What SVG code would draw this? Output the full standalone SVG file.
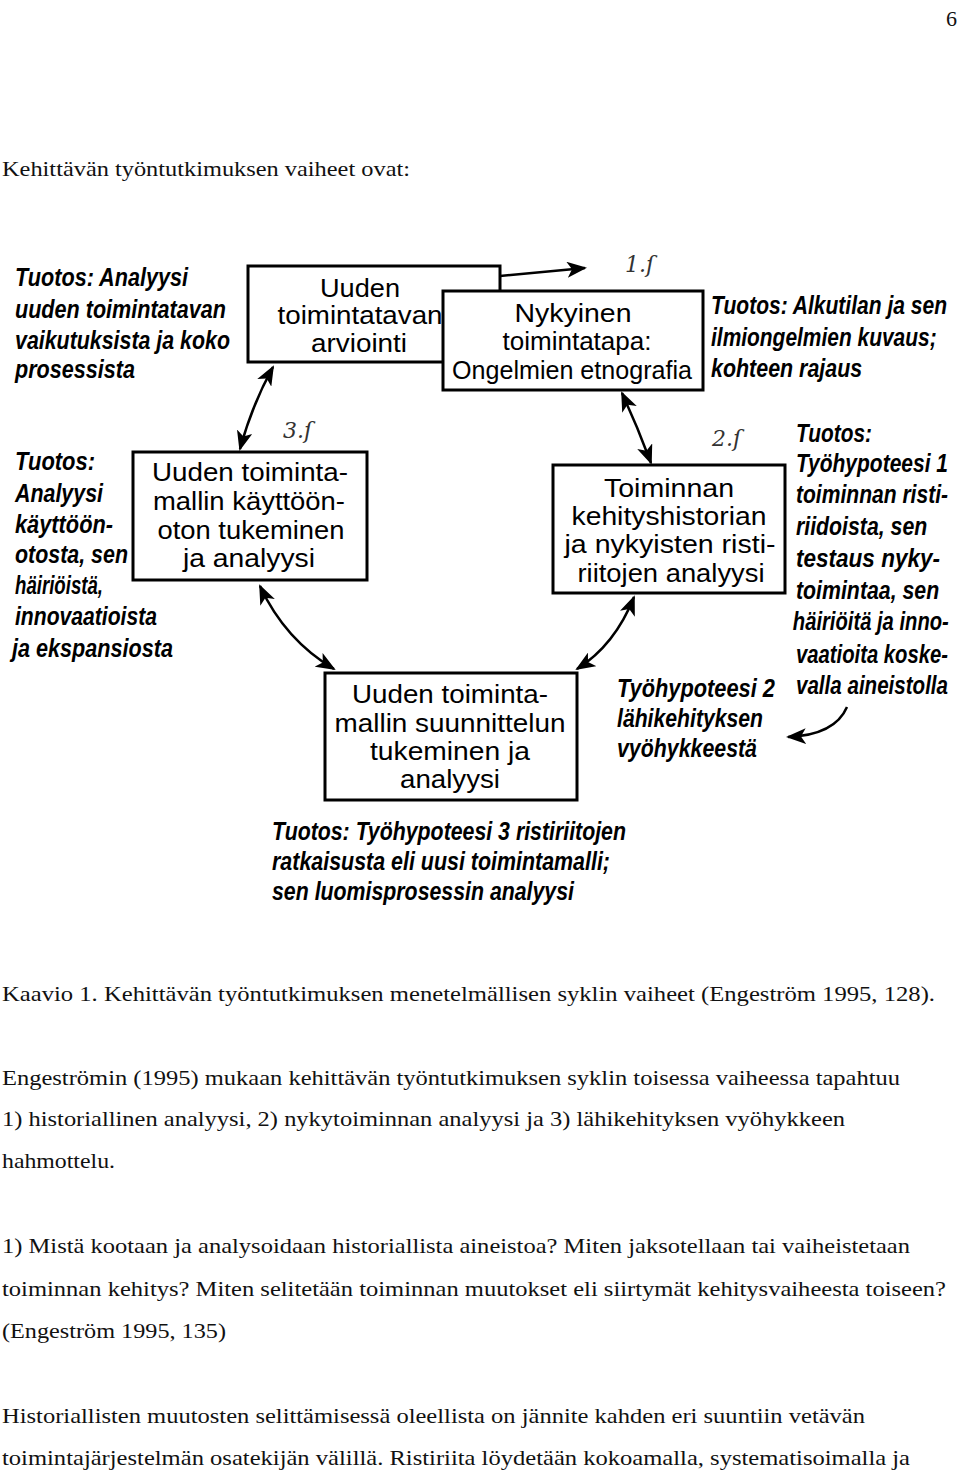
<svg xmlns="http://www.w3.org/2000/svg" width="960" height="1475" viewBox="0 0 960 1475">
<style>
.pg{font-family:"Liberation Serif","Times New Roman",serif;font-size:22px;fill:#111}
.bx{fill:#fff;stroke:#000;stroke-width:3}
.bt{font-family:"Liberation Sans",Arial,sans-serif;font-size:25px;fill:#000;text-anchor:middle}
.it{font-family:"Liberation Sans Narrow","Liberation Sans",Arial,sans-serif;font-size:25px;font-style:italic;font-weight:bold;fill:#000}
.hw{font-family:"DejaVu Serif",serif;font-style:italic;font-size:22px;fill:#333}
.ln{fill:none;stroke:#000;stroke-width:2.5}
</style>
<defs>
<marker id="ah" viewBox="0 0 20 16" refX="18" refY="8" markerWidth="20" markerHeight="16" markerUnits="userSpaceOnUse" orient="auto-start-reverse">
<path d="M0,0 L20,8 L0,16 L5,8 z" fill="#000"/>
</marker>
</defs>
<rect width="960" height="1475" fill="#fff"/>

<text class="pg" x="946" y="26">6</text>
<text class="pg" x="2" y="176" textLength="408" lengthAdjust="spacingAndGlyphs">Kehittävän työntutkimuksen vaiheet ovat:</text>

<g id="out-top-left">
<text class="it" x="15" y="286" textLength="173" lengthAdjust="spacingAndGlyphs">Tuotos: Analyysi</text>
<text class="it" x="15" y="318" textLength="211" lengthAdjust="spacingAndGlyphs">uuden toimintatavan</text>
<text class="it" x="15" y="349" textLength="215" lengthAdjust="spacingAndGlyphs">vaikutuksista ja koko</text>
<text class="it" x="15" y="378" textLength="120" lengthAdjust="spacingAndGlyphs">prosessista</text>
</g>

<g id="node-A">
<rect class="bx" x="248" y="266" width="252" height="96"/>
<text class="bt" x="360" y="297" textLength="80" lengthAdjust="spacingAndGlyphs">Uuden</text>
<text class="bt" x="360" y="324" textLength="165" lengthAdjust="spacingAndGlyphs">toimintatavan</text>
<text class="bt" x="359" y="352" textLength="96" lengthAdjust="spacingAndGlyphs">arviointi</text>
</g>

<g id="node-B">
<rect class="bx" x="443" y="291" width="260" height="99"/>
<text class="bt" x="573" y="322" textLength="117" lengthAdjust="spacingAndGlyphs">Nykyinen</text>
<text class="bt" x="577" y="350" textLength="149" lengthAdjust="spacingAndGlyphs">toimintatapa:</text>
<text class="bt" x="572" y="379" textLength="240" lengthAdjust="spacingAndGlyphs">Ongelmien etnografia</text>
</g>

<g id="out-top-right" transform="translate(711,0) scale(0.8,1)">
<text class="it" x="0" y="314" textLength="295" lengthAdjust="spacingAndGlyphs">Tuotos: Alkutilan ja sen</text>
<text class="it" x="0" y="346" textLength="282" lengthAdjust="spacingAndGlyphs">ilmiongelmien kuvaus;</text>
<text class="it" x="0" y="377" textLength="189" lengthAdjust="spacingAndGlyphs">kohteen rajaus</text>
</g>

<g id="out-left">
<text class="it" x="15" y="470" textLength="80" lengthAdjust="spacingAndGlyphs">Tuotos:</text>
<text class="it" x="15" y="502" textLength="88" lengthAdjust="spacingAndGlyphs">Analyysi</text>
<text class="it" x="15" y="533" textLength="98" lengthAdjust="spacingAndGlyphs">käyttöön-</text>
<text class="it" x="15" y="563" textLength="113" lengthAdjust="spacingAndGlyphs">otosta, sen</text>
<text class="it" x="15" y="594" textLength="88" lengthAdjust="spacingAndGlyphs">häiriöistä,</text>
<text class="it" x="15" y="625" textLength="142" lengthAdjust="spacingAndGlyphs">innovaatioista</text>
<text class="it" x="12" y="657" textLength="161" lengthAdjust="spacingAndGlyphs">ja ekspansiosta</text>
</g>

<g id="node-C">
<rect class="bx" x="133" y="452" width="234" height="128"/>
<text class="bt" x="250" y="481" textLength="196" lengthAdjust="spacingAndGlyphs">Uuden toiminta-</text>
<text class="bt" x="249" y="510" textLength="192" lengthAdjust="spacingAndGlyphs">mallin käyttöön-</text>
<text class="bt" x="251" y="539" textLength="187" lengthAdjust="spacingAndGlyphs">oton tukeminen</text>
<text class="bt" x="249" y="567" textLength="132" lengthAdjust="spacingAndGlyphs">ja analyysi</text>
</g>

<g id="node-D">
<rect class="bx" x="553" y="465" width="232" height="128"/>
<text class="bt" x="669" y="497" textLength="130" lengthAdjust="spacingAndGlyphs">Toiminnan</text>
<text class="bt" x="669" y="525" textLength="195" lengthAdjust="spacingAndGlyphs">kehityshistorian</text>
<text class="bt" x="670" y="553" textLength="211" lengthAdjust="spacingAndGlyphs">ja nykyisten risti-</text>
<text class="bt" x="671" y="582" textLength="187" lengthAdjust="spacingAndGlyphs">riitojen analyysi</text>
</g>

<g id="out-right" transform="translate(796,0) scale(0.8,1)">
<text class="it" x="0" y="442" textLength="95" lengthAdjust="spacingAndGlyphs">Tuotos:</text>
<text class="it" x="0" y="472" textLength="190" lengthAdjust="spacingAndGlyphs">Työhypoteesi 1</text>
<text class="it" x="0" y="503" textLength="190" lengthAdjust="spacingAndGlyphs">toiminnan risti-</text>
<text class="it" x="0" y="535" textLength="164" lengthAdjust="spacingAndGlyphs">riidoista, sen</text>
<text class="it" x="0" y="567" textLength="180" lengthAdjust="spacingAndGlyphs">testaus nyky-</text>
<text class="it" x="0" y="599" textLength="179" lengthAdjust="spacingAndGlyphs">toimintaa, sen</text>
<text class="it" x="-4" y="630" textLength="195" lengthAdjust="spacingAndGlyphs">häiriöitä ja inno-</text>
<text class="it" x="0" y="663" textLength="190" lengthAdjust="spacingAndGlyphs">vaatioita koske-</text>
<text class="it" x="0" y="694" textLength="190" lengthAdjust="spacingAndGlyphs">valla aineistolla</text>
</g>

<g id="node-E">
<rect class="bx" x="325" y="673" width="252" height="127"/>
<text class="bt" x="450" y="703" textLength="196" lengthAdjust="spacingAndGlyphs">Uuden toiminta-</text>
<text class="bt" x="450" y="732" textLength="231" lengthAdjust="spacingAndGlyphs">mallin suunnittelun</text>
<text class="bt" x="450" y="760" textLength="160" lengthAdjust="spacingAndGlyphs">tukeminen ja</text>
<text class="bt" x="450" y="788" textLength="100" lengthAdjust="spacingAndGlyphs">analyysi</text>
</g>

<g id="out-wh2">
<text class="it" x="617" y="697" textLength="158" lengthAdjust="spacingAndGlyphs">Työhypoteesi 2</text>
<text class="it" x="617" y="727" textLength="146" lengthAdjust="spacingAndGlyphs">lähikehityksen</text>
<text class="it" x="617" y="757" textLength="140" lengthAdjust="spacingAndGlyphs">vyöhykkeestä</text>
</g>

<g id="out-bottom">
<text class="it" x="272" y="840" textLength="354" lengthAdjust="spacingAndGlyphs">Tuotos: Työhypoteesi 3 ristiriitojen</text>
<text class="it" x="272" y="870" textLength="338" lengthAdjust="spacingAndGlyphs">ratkaisusta eli uusi toimintamalli;</text>
<text class="it" x="272" y="900" textLength="302" lengthAdjust="spacingAndGlyphs">sen luomisprosessin analyysi</text>
</g>

<g id="handwritten">
<text class="hw" x="625" y="272">1.ſ</text>
<text class="hw" x="283" y="438">3.ſ</text>
<text class="hw" x="712" y="446">2.ſ</text>
</g>

<g id="connectors">
<path class="ln" d="M500,276 L585,268" marker-end="url(#ah)"/>
<path class="ln" d="M273,367 Q252,405 240,449" marker-start="url(#ah)" marker-end="url(#ah)"/>
<path class="ln" d="M622,393 Q638,428 651,463" marker-start="url(#ah)" marker-end="url(#ah)"/>
<path class="ln" d="M260,586 Q285,640 334,669" marker-start="url(#ah)" marker-end="url(#ah)"/>
<path class="ln" d="M634,597 Q615,645 577,669" marker-start="url(#ah)" marker-end="url(#ah)"/>
<path class="ln" d="M847,707 Q835,735 788,737" marker-end="url(#ah)"/>
</g>

<text class="pg" x="2" y="1001" textLength="933" lengthAdjust="spacingAndGlyphs">Kaavio 1. Kehittävän työntutkimuksen menetelmällisen syklin vaiheet (Engeström 1995, 128).</text>
<text class="pg" x="2" y="1085" textLength="898" lengthAdjust="spacingAndGlyphs">Engeströmin (1995) mukaan kehittävän työntutkimuksen syklin toisessa vaiheessa tapahtuu</text>
<text class="pg" x="2" y="1126" textLength="843" lengthAdjust="spacingAndGlyphs">1) historiallinen analyysi, 2) nykytoiminnan analyysi ja 3) lähikehityksen vyöhykkeen</text>
<text class="pg" x="2" y="1168" textLength="113" lengthAdjust="spacingAndGlyphs">hahmottelu.</text>
<text class="pg" x="2" y="1253" textLength="908" lengthAdjust="spacingAndGlyphs">1) Mistä kootaan ja analysoidaan historiallista aineistoa? Miten jaksotellaan tai vaiheistetaan</text>
<text class="pg" x="2" y="1296" textLength="944" lengthAdjust="spacingAndGlyphs">toiminnan kehitys? Miten selitetään toiminnan muutokset eli siirtymät kehitysvaiheesta toiseen?</text>
<text class="pg" x="2" y="1338" textLength="224" lengthAdjust="spacingAndGlyphs">(Engeström 1995, 135)</text>
<text class="pg" x="2" y="1423" textLength="863" lengthAdjust="spacingAndGlyphs">Historiallisten muutosten selittämisessä oleellista on jännite kahden eri suuntiin vetävän</text>
<text class="pg" x="2" y="1465" textLength="908" lengthAdjust="spacingAndGlyphs">toimintajärjestelmän osatekijän välillä. Ristiriita löydetään kokoamalla, systematisoimalla ja</text>
</svg>
